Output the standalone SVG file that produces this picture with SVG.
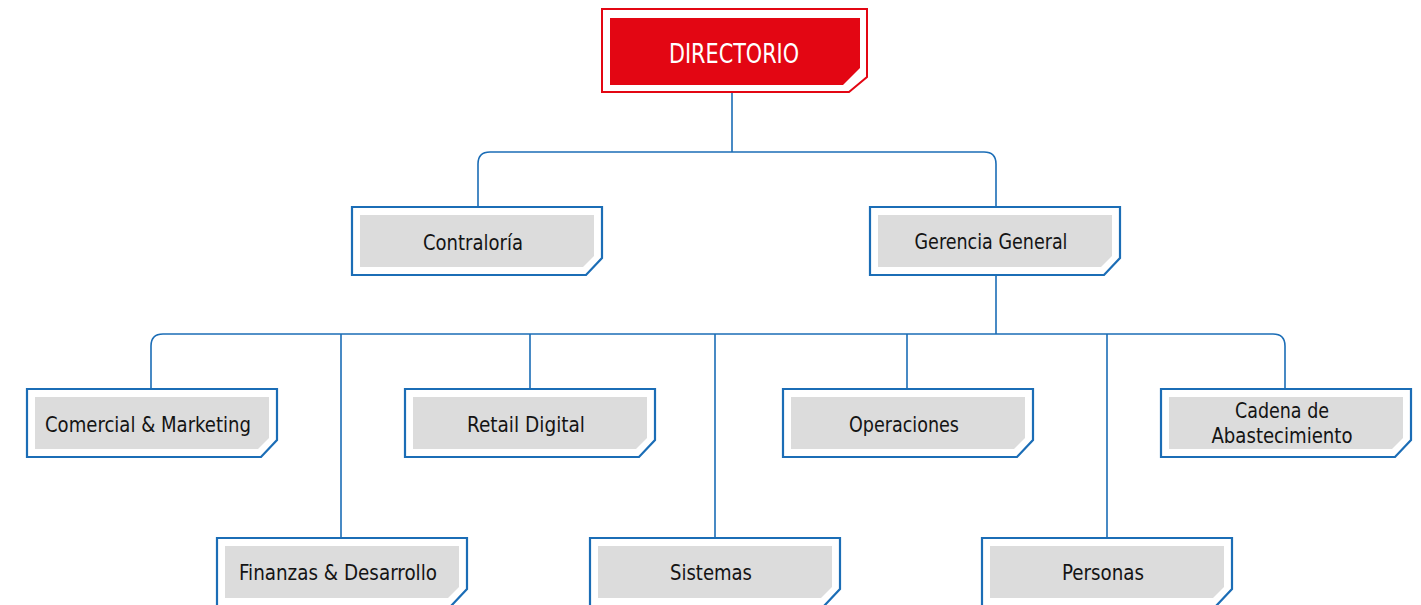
<svg xmlns="http://www.w3.org/2000/svg" width="1421" height="605" viewBox="0 0 1421 605">
<style>
.outer{fill:#ffffff;stroke:#1b6db6;stroke-width:2.2}
.inner{fill:#dcdcdc}
.lbl{font-family:"DejaVu Sans Condensed","DejaVu Sans","Liberation Sans",sans-serif;font-stretch:condensed;font-size:21px;fill:#141414;text-anchor:middle}
.conn{fill:none;stroke:#1b6db6;stroke-width:1.6}
</style>
<defs>
<path id="ob" d="M0,0 H250 V51 L234,68 H0 Z"/>
<path id="ib" d="M8,8 H242 V49 L231,60 H8 Z"/>
</defs>
<rect width="1421" height="605" fill="#ffffff"/>
<g id="connectors" class="conn">
<path d="M732,92 V152"/>
<path d="M478,207 V164 Q478,152 490,152 H984 Q996,152 996,164 V207"/>
<path d="M996,275 V334"/>
<path d="M151,389 V346 Q151,334 163,334 H1273 Q1285,334 1285,346 V389"/>
<path d="M341,334 V538"/>
<path d="M530,334 V389"/>
<path d="M715,334 V538"/>
<path d="M907,334 V389"/>
<path d="M1107,334 V538"/>
</g>
<g id="directorio">
<path d="M602,9 H867 V77 L849,92 H602 Z" fill="#ffffff" stroke="#e30613" stroke-width="2"/>
<path d="M610,18 H860 V68 L843,85 H610 Z" fill="#e30613"/>
<text x="734" y="63" font-family="DejaVu Sans Condensed, DejaVu Sans, sans-serif" font-stretch="condensed" font-size="27" fill="#ffffff" text-anchor="middle" textLength="130" lengthAdjust="spacingAndGlyphs">DIRECTORIO</text>
</g>
<g id="contraloria" transform="translate(352,207)">
<use href="#ob" class="outer"/><use href="#ib" class="inner"/>
<text class="lbl" x="121" y="43" textLength="100" lengthAdjust="spacingAndGlyphs">Contraloría</text>
</g>
<g id="gerencia-general" transform="translate(870,207)">
<use href="#ob" class="outer"/><use href="#ib" class="inner"/>
<text class="lbl" x="121" y="42" textLength="153" lengthAdjust="spacingAndGlyphs">Gerencia General</text>
</g>
<g id="comercial-marketing" transform="translate(27,389)">
<use href="#ob" class="outer"/><use href="#ib" class="inner"/>
<text class="lbl" x="121" y="43" textLength="206" lengthAdjust="spacingAndGlyphs">Comercial &amp; Marketing</text>
</g>
<g id="retail-digital" transform="translate(405,389)">
<use href="#ob" class="outer"/><use href="#ib" class="inner"/>
<text class="lbl" x="121" y="43" textLength="118" lengthAdjust="spacingAndGlyphs">Retail Digital</text>
</g>
<g id="operaciones" transform="translate(783,389)">
<use href="#ob" class="outer"/><use href="#ib" class="inner"/>
<text class="lbl" x="121" y="43" textLength="110" lengthAdjust="spacingAndGlyphs">Operaciones</text>
</g>
<g id="cadena-abastecimiento" transform="translate(1161,389)">
<use href="#ob" class="outer"/><use href="#ib" class="inner"/>
<text class="lbl" x="121" y="29" textLength="94" lengthAdjust="spacingAndGlyphs">Cadena de</text>
<text class="lbl" x="121" y="54" textLength="141" lengthAdjust="spacingAndGlyphs">Abastecimiento</text>
</g>
<g id="finanzas-desarrollo" transform="translate(217,538)">
<use href="#ob" class="outer"/><use href="#ib" class="inner"/>
<text class="lbl" x="121" y="42" textLength="198" lengthAdjust="spacingAndGlyphs">Finanzas &amp; Desarrollo</text>
</g>
<g id="sistemas" transform="translate(590,538)">
<use href="#ob" class="outer"/><use href="#ib" class="inner"/>
<text class="lbl" x="121" y="42" textLength="82" lengthAdjust="spacingAndGlyphs">Sistemas</text>
</g>
<g id="personas" transform="translate(982,538)">
<use href="#ob" class="outer"/><use href="#ib" class="inner"/>
<text class="lbl" x="121" y="42" textLength="82" lengthAdjust="spacingAndGlyphs">Personas</text>
</g>
</svg>
